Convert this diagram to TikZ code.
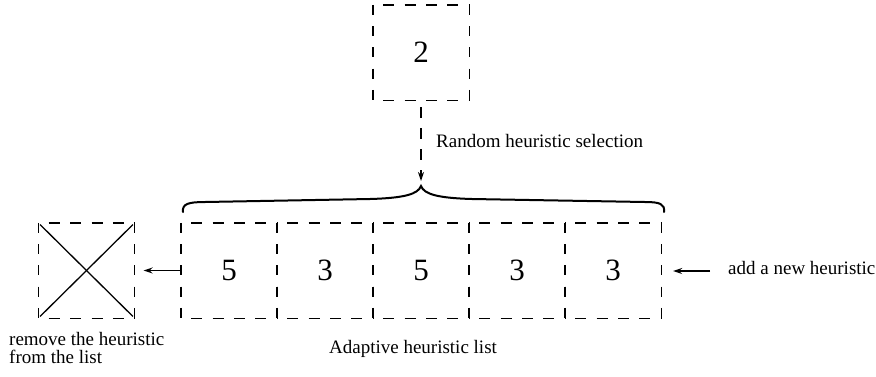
\documentclass[tikz,border=0pt]{standalone}
\usepackage{fontspec}
\setmainfont{Liberation Serif}
\usetikzlibrary{arrows.meta}
\newcommand\cellsides[1]{%
  \draw[vdash] (#1.north west) -- (#1.south west);
  \draw[vdash] (#1.north east) -- (#1.south east);
  \draw[hdash] (#1.north west) -- (#1.north east);
  \draw[hdash] (#1.south west) -- (#1.south east);}
\begin{document}
\begin{tikzpicture}[x=1pt,y=1pt,
  cell/.style={minimum width=96pt,minimum height=95pt,inner sep=0pt,font=\fontsize{31}{31}\selectfont},
  vdash/.style={line width=1.4pt,dash pattern=on 10pt off 11.25pt},
  hdash/.style={line width=1.4pt,dash pattern=on 11pt off 10.4pt,dash phase=11pt},
  lbl/.style={inner sep=0pt,font=\fontsize{19}{18}\selectfont},
  arr/.style={-{Stealth[length=9pt,width=6pt,inset=3pt]},line width=1.2pt}
]
\useasboundingbox (0,0) rectangle (876,-376);
\node[cell] (top) at (421,-52.5) {2};
\node[cell] (c1) at (229,-270.5) {5};
\node[cell] (c2) at (325,-270.5) {3};
\node[cell] (c3) at (421,-270.5) {5};
\node[cell] (c4) at (517,-270.5) {3};
\node[cell] (c5) at (613,-270.5) {3};
\node[cell] (xb) at (86.5,-270.5) {};
\cellsides{top}\cellsides{c1}\cellsides{c2}\cellsides{c3}\cellsides{c4}\cellsides{c5}\cellsides{xb}
\draw[line width=1.3pt,shorten <=2.5pt,shorten >=2.5pt] (xb.north west) -- (xb.south east);
\draw[line width=1.3pt,shorten <=2.5pt,shorten >=2.5pt] (xb.north east) -- (xb.south west);
% brace
\coordinate (brtip) at (421,-186);
\draw[line width=2pt,line cap=round]
  (183,-212) .. controls (182,-204) and (188,-202) .. (205,-202)
  -- (370,-199) .. controls (405,-198) and (418,-194) .. (brtip)
  .. controls (424,-194) and (437,-198) .. (472,-199)
  -- (645,-202) .. controls (660,-202) and (665,-204) .. (664,-212);
% selection arrow
\draw[arr,dash pattern=on 11pt off 10pt,shorten <=7pt,shorten >=5pt] (top.south) -- (brtip);
\node[lbl,anchor=base west] (sel) at (436,-147) {Random heuristic selection};
% remove arrow
\draw[arr,shorten <=1pt,shorten >=9pt] (c1.west) -- (xb.east);
\node[lbl,anchor=north west,align=left] (rem) at (9,-332) {remove the heuristic\\from the list};
% add arrow
\node[lbl,anchor=base west] (add) at (728,-274) {add a new heuristic};
\coordinate (addst) at (710,-271);
\draw[arr,shorten >=12pt] (addst) -- (addst -| c5.east);
\node[lbl,anchor=base] (lst) at (413,-353) {Adaptive heuristic list};
\end{tikzpicture}
\end{document}
